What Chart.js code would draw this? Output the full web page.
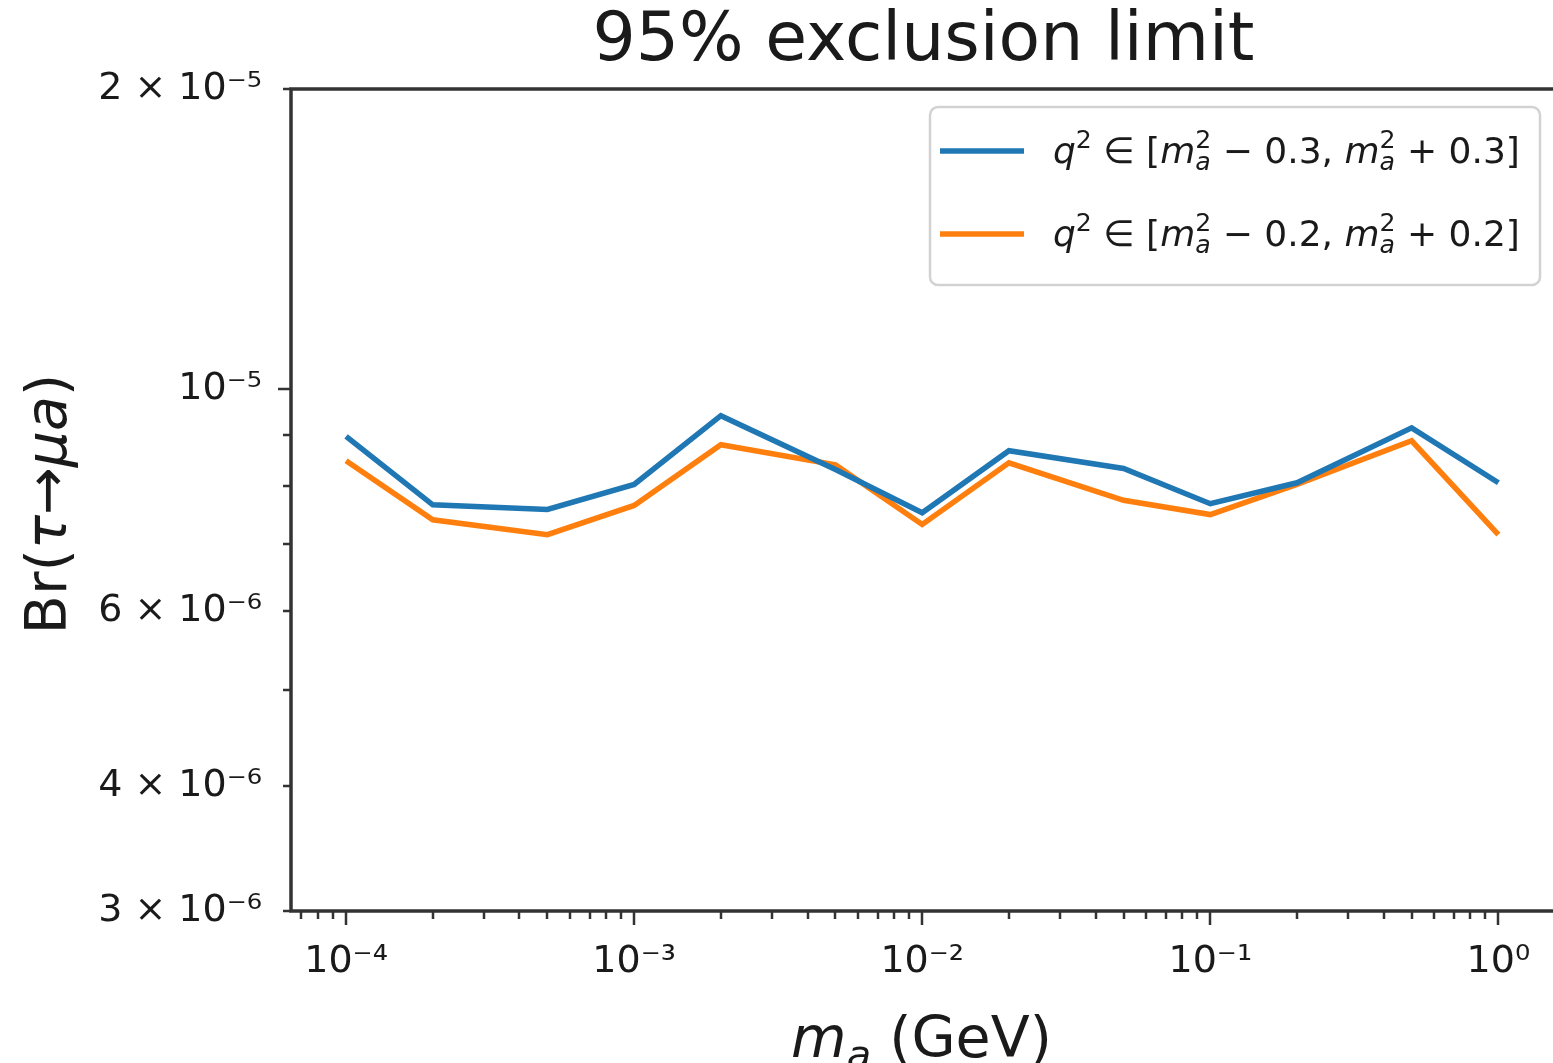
<!DOCTYPE html>
<html>
<head>
<meta charset="utf-8">
<title>95% exclusion limit</title>
<script src="https://cdn.jsdelivr.net/npm/chart.js@4.4.1/dist/chart.umd.min.js"></script>
<style>
  html, body { margin: 0; padding: 0; background: #fff; overflow: hidden; }
  #wrap { width: 1553px; height: 1063px; overflow: hidden; }
</style>
</head>
<body>
<div id="wrap"><canvas id="limits" width="1600" height="1063"></canvas></div>
<script>
// axion mass points (GeV)
const massValues = [1e-4, 2e-4, 5e-4, 1e-3, 2e-3, 5e-3, 1e-2, 2e-2, 5e-2, 1e-1, 2e-1, 5e-1, 1];
// 95% CL upper limit on Br(tau -> mu a), q^2 window +-0.3
const brWide = [8.97e-6, 7.66e-6, 7.58e-6, 8.03e-6, 9.41e-6, 8.31e-6, 7.52e-6, 8.68e-6, 8.33e-6, 7.68e-6, 8.06e-6, 9.15e-6, 8.06e-6];
// same, q^2 window +-0.2
const brNarrow = [8.48e-6, 7.40e-6, 7.15e-6, 7.65e-6, 8.80e-6, 8.40e-6, 7.32e-6, 8.44e-6, 7.74e-6, 7.49e-6, 8.03e-6, 8.88e-6, 7.15e-6];

const windowHalfWidths = ['0.3', '0.2'];
const seriesLabels = ['q² ∈ [mₐ² − 0.3, mₐ² + 0.3]', 'q² ∈ [mₐ² − 0.2, mₐ² + 0.2]'];
const lineColors = ['#1f77b4', '#ff7f0e'];

const xMin = 6.44e-5, xMax = 1.585;
const yMin = 3e-6, yMax = 2e-5;

const xMajorTicks = [1e-4, 1e-3, 1e-2, 1e-1, 1];
const xTickLabels = ['10⁻⁴', '10⁻³', '10⁻²', '10⁻¹', '10⁰'];
const yTickValues = [3e-6, 4e-6, 5e-6, 6e-6, 7e-6, 8e-6, 9e-6, 1e-5, 2e-5];
const yLabeledTicks = [3e-6, 4e-6, 6e-6, 1e-5, 2e-5];
const yTickLabels = ['3 × 10⁻⁶', '4 × 10⁻⁶', '6 × 10⁻⁶', '10⁻⁵', '2 × 10⁻⁵'];

const FONT = 'DejaVu Sans';
const INK = '#1a1a1a';

const same = (a, b) => Math.abs(a / b - 1) < 1e-6;
const isDecade = v => Math.abs(Math.log10(v) - Math.round(Math.log10(v))) < 1e-9;

function labelFor(v, values, labels) {
  const i = values.findIndex(t => same(t, v));
  return i < 0 ? '' : labels[i];
}

// 1..9 x 10^n inside the axis range
function logTicks(min, max) {
  const out = [];
  for (let e = Math.floor(Math.log10(min)); e <= Math.ceil(Math.log10(max)); e++) {
    for (let m = 1; m <= 9; m++) {
      const v = m * Math.pow(10, e);
      if (v >= min && v <= max) out.push(v);
    }
  }
  return out;
}

// --- small rich-text helper: italics, super/subscripts, stacked sup+sub ---
function segFont(size, italic) {
  return (italic ? 'italic ' : '') + size + 'px "' + FONT + '"';
}
function segWidth(ctx, s, size) {
  if (s.stack) {
    ctx.font = segFont(size * 0.7, false);
    const a = ctx.measureText(s.stack[0]).width;
    ctx.font = segFont(size * 0.7, true);
    const b = ctx.measureText(s.stack[1]).width;
    return Math.max(a, b);
  }
  ctx.font = segFont(s.sup || s.sub ? size * 0.7 : size, s.it);
  return ctx.measureText(s.t).width;
}
function drawRich(ctx, segs, x, y, size, align) {
  const widths = segs.map(s => segWidth(ctx, s, size));
  const total = widths.reduce((a, b) => a + b, 0);
  let cx = align === 'center' ? x - total / 2 : x;
  ctx.textAlign = 'left';
  ctx.textBaseline = 'alphabetic';
  segs.forEach((s, i) => {
    if (s.stack) {
      ctx.font = segFont(size * 0.7, false);
      ctx.fillText(s.stack[0], cx, y - size * 0.42);
      ctx.font = segFont(size * 0.7, true);
      ctx.fillText(s.stack[1], cx, y + size * 0.2);
    } else {
      const dy = s.sup ? -size * 0.42 : (s.sub ? size * 0.2 : 0);
      ctx.font = segFont(s.sup || s.sub ? size * 0.7 : size, s.it);
      ctx.fillText(s.t, cx, y + dy);
    }
    cx += widths[i];
  });
  return total;
}

function legendSegs(w) {
  return [
    { t: 'q', it: true }, { t: '2', sup: true }, { t: ' ∈ [' },
    { t: 'm', it: true }, { stack: ['2', 'a'] }, { t: ' − ' + w + ', ' },
    { t: 'm', it: true }, { stack: ['2', 'a'] }, { t: ' + ' + w + ']' }
  ];
}
const xTitleSegs = [{ t: 'm', it: true }, { t: 'a', it: true, sub: true }, { t: ' (GeV)' }];
const yTitleSegs = [{ t: 'Br(' }, { t: 'τ', it: true }, { t: '→' }, { t: 'μa', it: true }, { t: ')' }];

// frame, tick marks, axis titles and the boxed legend
const decorations = {
  id: 'decorations',
  afterDraw(chart) {
    const ctx = chart.ctx;
    const area = chart.chartArea;
    const xs = chart.scales.x, ys = chart.scales.y;
    ctx.save();

    ctx.strokeStyle = '#333';
    ctx.lineWidth = 2.5;
    ctx.beginPath();
    xs.ticks.forEach(t => {
      const px = Math.round(xs.getPixelForValue(t.value));
      ctx.moveTo(px, area.bottom);
      ctx.lineTo(px, area.bottom + (isDecade(t.value) ? 14 : 8));
    });
    ys.ticks.forEach(t => {
      const py = Math.round(ys.getPixelForValue(t.value));
      ctx.moveTo(area.left, py);
      ctx.lineTo(area.left - (isDecade(t.value) ? 13 : 8), py);
    });
    ctx.stroke();

    ctx.lineWidth = 3.5;
    ctx.strokeRect(area.left, area.top, area.right - area.left, area.bottom - area.top);

    ctx.fillStyle = INK;
    drawRich(ctx, xTitleSegs, (area.left + area.right) / 2 - 2, area.bottom + 146, 57, 'center');

    ctx.save();
    ctx.translate(46, (area.top + area.bottom) / 2 + 4);
    ctx.rotate(-Math.PI / 2);
    drawRich(ctx, yTitleSegs, 0, 20, 57, 'center');
    ctx.restore();

    // legend box, upper right
    const bw = 610, bh = 178;
    const bx = area.right - 16 - bw, by = area.top + 18;
    ctx.beginPath();
    ctx.roundRect(bx, by, bw, bh, 8);
    ctx.fillStyle = 'rgba(255,255,255,0.85)';
    ctx.fill();
    ctx.strokeStyle = '#d2d2d2';
    ctx.lineWidth = 2.5;
    ctx.stroke();

    chart.data.datasets.forEach((ds, i) => {
      const ly = by + 44 + i * 83;
      ctx.strokeStyle = ds.borderColor;
      ctx.lineWidth = 5.5;
      ctx.beginPath();
      ctx.moveTo(bx + 10, ly);
      ctx.lineTo(bx + 94, ly);
      ctx.stroke();
      ctx.fillStyle = INK;
      drawRich(ctx, legendSegs(windowHalfWidths[i]), bx + 123, ly + 12, 36, 'left');
    });

    ctx.restore();
  }
};

const tickFont = { family: FONT, size: 38, weight: 'normal' };

new Chart(document.getElementById('limits'), {
  type: 'line',
  data: {
    datasets: [
      {
        label: seriesLabels[0],
        data: massValues.map((m, i) => ({ x: m, y: brWide[i] })),
        borderColor: lineColors[0],
        borderWidth: 5.5,
        pointRadius: 0,
        tension: 0,
        fill: false
      },
      {
        label: seriesLabels[1],
        data: massValues.map((m, i) => ({ x: m, y: brNarrow[i] })),
        borderColor: lineColors[1],
        borderWidth: 5.5,
        pointRadius: 0,
        tension: 0,
        fill: false
      }
    ]
  },
  options: {
    responsive: false,
    animation: false,
    devicePixelRatio: 1,
    layout: { padding: { left: 0, right: 44, top: 0, bottom: 0 } },
    plugins: {
      legend: { display: false },
      tooltip: { enabled: false },
      title: {
        display: true,
        text: '95% exclusion limit',
        fullSize: false,
        color: INK,
        font: { family: FONT, size: 68, weight: 'normal' },
        padding: { top: 2, bottom: 5.4 }
      }
    },
    scales: {
      x: {
        type: 'logarithmic',
        min: xMin,
        max: xMax,
        afterBuildTicks: s => { s.ticks = logTicks(xMin, xMax).map(v => ({ value: v })); },
        afterFit: s => { s.height = 152; },
        grid: { display: false, drawTicks: false },
        border: { display: false },
        ticks: {
          autoSkip: false,
          maxRotation: 0,
          padding: 28,
          color: INK,
          font: tickFont,
          callback: v => labelFor(v, xMajorTicks, xTickLabels)
        }
      },
      y: {
        type: 'logarithmic',
        min: yMin,
        max: yMax,
        afterBuildTicks: s => { s.ticks = yTickValues.map(v => ({ value: v })); },
        afterFit: s => { s.width = 291; },
        grid: { display: false, drawTicks: false },
        border: { display: false },
        ticks: {
          autoSkip: false,
          padding: 29,
          color: INK,
          font: tickFont,
          callback: v => labelFor(v, yLabeledTicks, yTickLabels)
        }
      }
    }
  },
  plugins: [decorations]
});
</script>
</body>
</html>
